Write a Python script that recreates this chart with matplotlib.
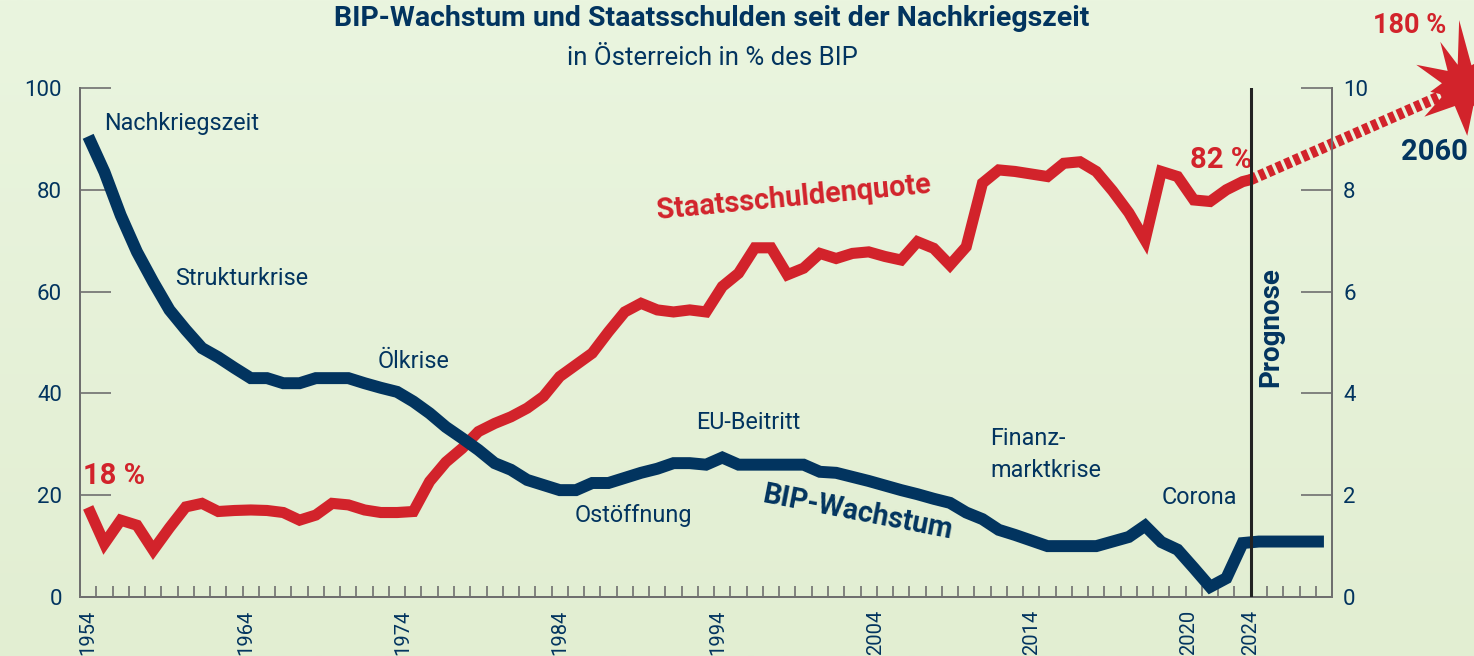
"""BIP-Wachstum und Staatsschulden in Oesterreich seit der Nachkriegszeit."""

import matplotlib

matplotlib.use("Agg")
import matplotlib.pyplot as plt  # noqa: E402
import matplotlib.transforms as mtransforms  # noqa: E402
import numpy as np  # noqa: E402
from matplotlib.patches import Polygon  # noqa: E402

NAVY = "#02345f"
RED = "#d2232b"
GREY = "#6f6f6f"
BG_TOP = "#eaf5df"
BG_BOTTOM = "#e2eed2"

# BIP-Wachstum (rechte Achse, %), ein Wert je Raster-Schritt
gdp_growth = [
    9.05, 8.35, 7.50, 6.78, 6.19, 5.64, 5.25, 4.89, 4.71, 4.50,
    4.30, 4.30, 4.20, 4.20, 4.30, 4.30, 4.30, 4.20, 4.11, 4.03,
    3.84, 3.61, 3.34, 3.12, 2.89, 2.63, 2.50, 2.30, 2.20, 2.10,
    2.10, 2.24, 2.24, 2.34, 2.44, 2.52, 2.63, 2.63, 2.60, 2.74,
    2.60, 2.60, 2.60, 2.60, 2.60, 2.46, 2.44, 2.36, 2.28, 2.19,
    2.10, 2.02, 1.93, 1.85, 1.66, 1.53, 1.32, 1.22, 1.11, 1.00,
    1.00, 1.00, 1.00, 1.09, 1.18, 1.40, 1.08, 0.93, 0.57, 0.20,
    0.37, 1.06, 1.09, 1.09, 1.09, 1.09, 1.09,
]

# Staatsschuldenquote (linke Achse, % des BIP) bis zum Prognosebeginn
debt_ratio = [
    17.6, 10.5, 15.1, 14.1, 9.2, 13.6, 17.7, 18.4, 16.8, 17.0,
    17.1, 17.0, 16.6, 15.1, 16.1, 18.4, 18.1, 17.1, 16.6, 16.6,
    16.8, 22.7, 26.5, 29.2, 32.5, 34.1, 35.4, 37.1, 39.4, 43.3,
    45.6, 47.9, 52.1, 56.0, 57.7, 56.4, 56.0, 56.4, 56.0, 61.0,
    63.6, 68.6, 68.6, 63.3, 64.6, 67.5, 66.5, 67.5, 67.8, 66.9,
    66.2, 69.8, 68.5, 65.2, 68.8, 81.3, 83.9, 83.6, 83.1, 82.6,
    85.2, 85.5, 83.6, 79.8, 75.5, 70.1, 83.6, 82.6, 78.0, 77.7,
    80.0, 81.6,
]
debt_now = 82
debt_start = 18
debt_2060 = 180
forecast_year = "2060"

tick_labels = ["1954", "1964", "1974", "1984", "1994", "2004", "2014", "2020", "2024"]
tick_pos = [0.45, 10.2, 19.85, 29.5, 39.2, 48.9, 58.5, 68.2, 72.0]

events = ["Nachkriegszeit", "Strukturkrise", "Ölkrise", "EU-Beitritt",
          "Ostöffnung", "Finanz-\nmarktkrise", "Corona"]
event_pos = [(1.48, 93.0), (5.85, 62.6), (18.3, 46.3), (37.9, 34.2),
             (30.4, 16.1), (56.0, 28.0), (66.5, 19.6)]

plt.rcParams["font.family"] = ["Roboto", "DejaVu Sans"]

fig = plt.figure(figsize=(14.74, 6.56), dpi=100)

# sanfter Hintergrundverlauf
bg = fig.add_axes([0, 0, 1, 1], zorder=-10)
grad = np.linspace(0, 1, 256).reshape(-1, 1)
cmap = matplotlib.colors.LinearSegmentedColormap.from_list("bg", [BG_TOP, BG_BOTTOM])
bg.imshow(grad, aspect="auto", cmap=cmap, extent=[0, 1, 0, 1])
bg.set_axis_off()

ax = fig.add_axes([0.0543, 0.0899, 0.8494, 0.776])
ax.patch.set_alpha(0)
ax2 = ax.twinx()

n_steps = len(gdp_growth)
boundary = len(debt_ratio)
x_gdp = np.arange(n_steps) + 0.5
x_debt = np.append(np.arange(boundary) + 0.5, boundary)
y_debt = np.append(debt_ratio, debt_now)

ax.plot(x_debt, y_debt, color=RED, lw=8, solid_joinstyle="miter",
        solid_capstyle="butt", zorder=3)
ax2.plot(x_gdp, gdp_growth, color=NAVY, lw=8.6, solid_joinstyle="miter",
         solid_capstyle="butt", zorder=4)

# Prognose-Trennlinie
ax2.axvline(boundary, color="#222222", lw=2.2, zorder=6)

# gestrichelter Prognosepfeil bis zum Stern
tip = (85.1, 100.4)
ax.plot([boundary, tip[0]], [debt_now, tip[1]], color=RED, lw=8,
        linestyle=(0, (0.55, 0.3)), dash_capstyle="butt", clip_on=False, zorder=3)

spikes = [(94, 0.66), (118, 0.50), (156, 0.52), (190, 0.34), (218, 0.50),
          (274, 0.50), (318, 0.48), (0, 0.54), (45, 0.52)]
verts = []
for i, (ang, rad) in enumerate(spikes):
    nxt = spikes[(i + 1) % len(spikes)][0]
    if nxt < ang:
        nxt += 360
    mid = (ang + nxt) / 2
    verts.append((rad * np.cos(np.radians(ang)), rad * np.sin(np.radians(ang))))
    verts.append((0.22 * np.cos(np.radians(mid)), 0.22 * np.sin(np.radians(mid))))
star_trans = fig.dpi_scale_trans + mtransforms.ScaledTranslation(
    tip[0], tip[1], ax.transData)
star = Polygon(verts, closed=True, facecolor=RED, edgecolor="none",
               transform=star_trans, clip_on=False, zorder=7)
ax.add_patch(star)

# Achsen
ax.set_xlim(0, n_steps)
ax.set_ylim(0, 100)
ax2.set_ylim(0, 10)
for a in (ax, ax2):
    a.spines["top"].set_visible(False)
    for side in ("left", "right", "bottom"):
        a.spines[side].set_color(GREY)
        a.spines[side].set_linewidth(1.4)

ax.set_yticks(range(0, 101, 20))
ax2.set_yticks(range(0, 11, 2))
ax.tick_params(axis="y", direction="in", length=22, width=1.2, color=GREY,
               labelsize=16, labelcolor=NAVY, pad=13)
ax2.tick_params(axis="y", direction="in", length=22, width=1.2, color=GREY,
                labelsize=16, labelcolor=NAVY, pad=8)

ax.set_xticks(tick_pos)
ax.set_xticklabels(tick_labels, rotation=90, fontsize=14.5, color=NAVY)
ax.set_xticks(np.arange(1, n_steps), minor=True)
ax.tick_params(axis="x", which="major", length=0, pad=9)
ax.tick_params(axis="x", which="minor", direction="in", length=8, width=1.2,
               color=GREY)

# Beschriftungen
for label, (ex, ey) in zip(events, event_pos):
    ax.text(ex, ey, label, fontsize=16.8, color=NAVY, ha="left", va="center",
            linespacing=1.45)

ax.text(43.9, 78.5, "Staatsschuldenquote", fontsize=20.8, fontweight="bold",
        color=RED, rotation=5.5, ha="center", va="center")
ax2.text(47.8, 1.65, "BIP-Wachstum", fontsize=20.6, fontweight="bold",
         color=NAVY, rotation=-11, ha="center", va="center")
ax2.text(73.2, 5.3, "Prognose", fontsize=20, fontweight="bold", color=NAVY,
         rotation=90, ha="center", va="center")

ax.text(0.2, 23.8, f"{debt_start} %", fontsize=21, fontweight="bold",
        color=RED, ha="left", va="center")
ax.text(72.1, 85.9, f"{debt_now} %", fontsize=21, fontweight="bold",
        color=RED, ha="right", va="center")
ax.text(81.8, 112.3, f"{debt_2060} %", fontsize=19.5, fontweight="bold",
        color=RED, ha="center", va="center", clip_on=False)
ax.text(83.3, 87.4, forecast_year, fontsize=21, fontweight="bold",
        color=NAVY, ha="center", va="center", clip_on=False)

fig.text(0.483, 0.972, "BIP-Wachstum und Staatsschulden seit der Nachkriegszeit",
         fontsize=20.5, fontweight="bold", color=NAVY, ha="center", va="center")
fig.text(0.483, 0.911, "in Österreich in % des BIP", fontsize=18.5,
         color=NAVY, ha="center", va="center")

fig.savefig("out.png", dpi=100, facecolor=BG_TOP)
plt.close(fig)
